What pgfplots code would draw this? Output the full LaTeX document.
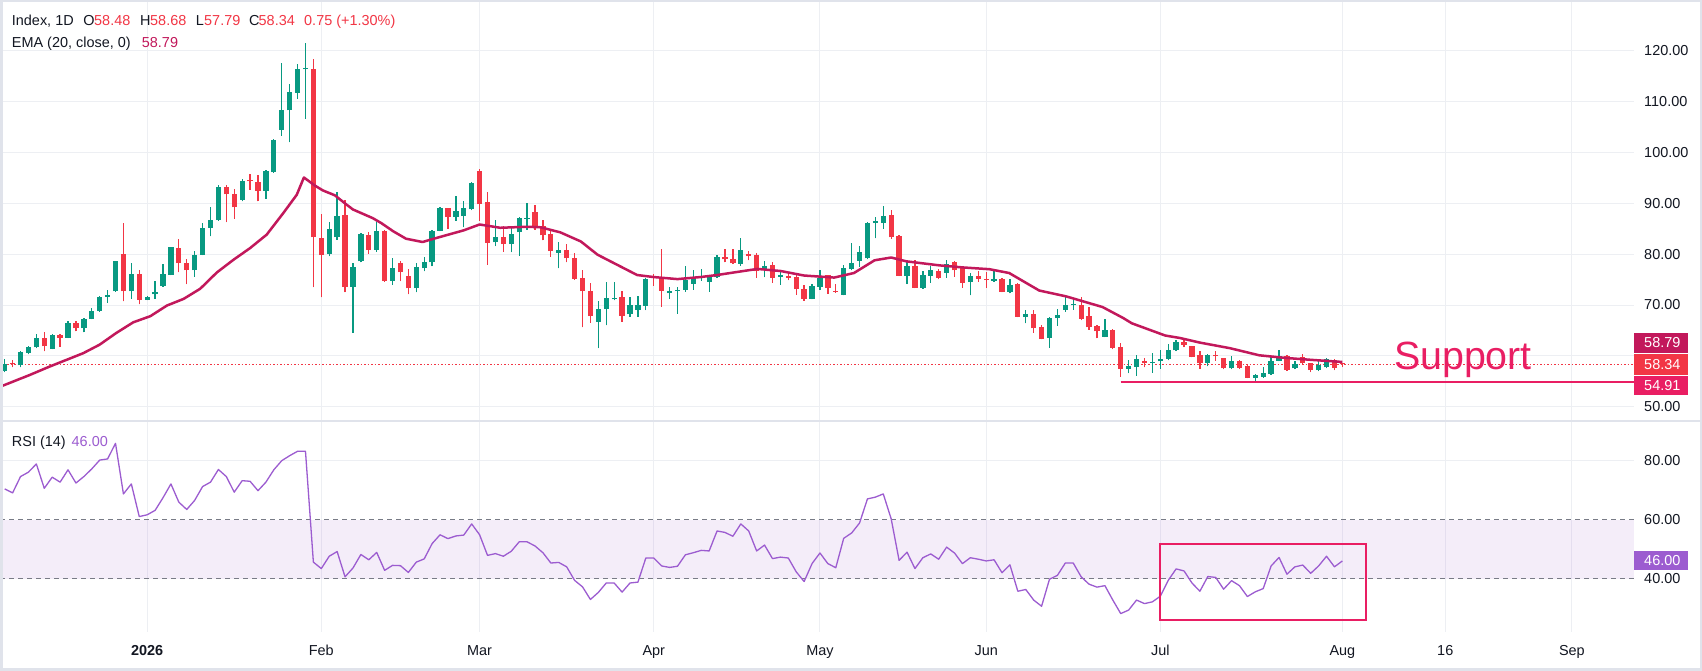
\documentclass[border=0pt]{standalone}
\usepackage{pgfplots}
\pgfplotsset{compat=1.18}
\usepackage{pgfplotstable}
\usepackage{fontspec}
\setmainfont{Liberation Sans}
\definecolor{cgreen}{HTML}{089981}
\definecolor{cred}{HTML}{F23645}
\definecolor{cema}{HTML}{C2185B}
\definecolor{cpink}{HTML}{E91E63}
\definecolor{crsi}{HTML}{9C5CD0}
\definecolor{cgrid}{HTML}{EDEFF3}
\definecolor{ctext}{HTML}{131722}
\definecolor{cdash}{HTML}{787B86}
\definecolor{cframe}{HTML}{E0E3EB}
\newcommand{\sm}{\fontsize{14.5}{17}\selectfont}
\pgfplotsset{candle/.style={only marks, mark=none, mark size=0pt,
  mark options={draw=none, fill=none}, forget plot}}

\pgfplotstableread{
k O H L C
0 57.0 59.3 56.8 58.4
2 58.1 60.85 57.7 60.7
3 60.65 62.0 60.3 61.7
4 61.65 64.35 61.5 63.55
6 61.4 64.2 61.3 64.1
8 63.6 66.9 63.5 66.4
10 65.4 67.5 64.6 67.2
11 67.3 69.5 67.2 68.9
12 68.8 71.8 68.7 71.6
13 71.6 72.9 70.4 71.9
14 72.7 78.7 72.6 78.6
16 72.7 78.2 71.25 76.2
18 71.05 71.7 70.9 71.6
19 72.1 74.7 71.25 72.6
20 73.7 78.0 73.6 76.2
21 76.0 81.5 75.9 81.4
24 76.8 80.6 75.6 79.9
25 79.9 86.2 79.8 85.2
26 85.2 89.2 83.5 86.8
27 86.7 93.6 86.6 93.3
30 90.7 94.8 90.4 94.5
33 92.5 96.6 90.9 96.3
34 96.1 102.6 96.0 102.5
35 104.5 117.7 103.3 108.4
36 108.3 113.5 102.0 111.9
37 111.8 117.4 110.6 116.5
38 116.4 121.6 106.7 116.5
41 80.05 86.4 79.6 85.0
42 83.3 92.3 82.8 87.6
44 73.5 78.2 64.5 77.5
45 78.6 84.2 78.4 83.9
47 80.9 86.3 80.5 84.6
49 74.7 79.3 74.0 77.2
52 73.25 78.3 72.5 77.4
53 77.2 79.5 76.6 78.5
54 78.4 84.8 77.6 84.6
55 84.6 89.2 84.5 89.0
57 87.3 91.4 86.6 88.5
58 87.5 90.4 85.3 89.0
59 88.8 94.3 88.7 94.0
62 82.35 86.8 81.6 83.3
64 82.0 85.1 80.4 83.9
65 84.3 87.4 79.7 87.05
66 87.0 90.1 84.8 87.1
70 80.2 82.5 77.2 80.9
75 66.7 70.7 61.5 69.2
76 69.2 74.55 66.0 71.4
77 71.1 74.55 70.9 71.25
79 68.2 71.65 67.7 70.0
80 69.1 71.8 67.7 70.0
81 69.9 75.4 69.0 75.15
84 72.3 73.6 71.25 72.8
85 72.8 73.6 68.3 72.9
86 73.0 77.7 72.6 75.0
87 74.2 76.8 73.0 75.4
88 75.3 77.0 74.8 75.7
89 74.6 76.0 72.6 75.7
90 75.5 79.8 75.4 79.4
93 78.1 83.1 77.7 80.9
96 76.9 78.7 75.5 77.7
98 75.6 76.7 74.0 75.8
102 71.2 74.2 71.1 73.8
103 73.6 76.9 73.0 75.4
106 72.05 77.9 71.9 77.3
107 77.1 82.3 76.8 78.3
108 78.7 81.7 77.5 80.5
109 79.2 86.4 79.0 86.1
110 86.1 87.3 83.1 86.6
111 86.1 89.4 85.0 87.6
114 75.8 78.4 74.1 77.7
116 73.4 76.7 73.2 75.9
117 75.8 77.7 74.4 76.8
119 76.3 78.9 75.4 78.0
122 74.6 76.3 71.9 75.7
125 74.75 77.1 74.6 75.1
127 72.65 75.1 72.3 74.0
129 67.6 69.0 66.4 68.2
132 63.6 67.7 61.6 67.5
133 67.35 69.2 65.9 68.05
134 69.05 71.5 68.7 70.05
135 69.95 71.3 69.05 70.05
139 63.8 67.3 63.7 65.1
142 57.5 59.15 56.6 57.95
143 57.8 60.2 56.05 59.35
145 58.6 60.65 56.7 58.7
146 58.9 61.1 57.5 59.3
147 59.4 62.3 59.1 61.1
148 61.05 63.2 60.9 62.8
152 58.55 60.45 57.9 60.1
155 57.55 59.9 57.4 58.9
158 55.7 56.4 55.1 56.2
159 55.85 57.7 55.7 56.6
160 56.4 59.7 56.3 58.95
161 59.0 61.2 58.9 60.0
163 57.55 59.0 57.4 58.35
166 57.2 59.0 57.0 58.2
167 57.7 59.55 57.6 59.35
}\greentab

\pgfplotstableread{
k O H L C
1 58.55 59.1 57.7 58.4
5 63.55 64.7 60.85 61.85
7 64.1 64.2 61.8 63.6
9 66.4 66.8 64.8 65.4
15 80.1 86.1 70.7 72.7
17 76.2 76.8 70.1 71.05
22 81.3 82.9 76.4 78.2
23 78.35 79.1 74.1 76.8
28 93.3 93.7 86.3 91.8
29 91.9 92.8 87.0 89.2
31 94.5 95.8 92.7 94.35
32 94.3 95.6 90.4 92.5
39 116.5 118.4 73.5 83.3
40 83.1 88.0 71.5 79.8
43 87.65 90.6 72.5 73.5
46 83.85 84.3 80.1 80.9
48 84.6 84.8 74.6 74.7
50 78.2 78.7 74.7 76.45
51 75.8 77.1 72.1 73.25
56 89.0 89.1 85.0 87.3
60 96.3 96.7 86.6 89.8
61 90.2 92.2 77.9 82.3
63 83.3 85.6 80.5 82.0
67 88.4 89.6 84.8 85.6
68 85.6 86.7 82.7 83.7
69 83.9 85.0 79.5 80.6
71 80.9 82.0 78.4 79.2
72 79.3 80.2 75.0 75.2
73 75.4 76.8 65.6 72.7
74 72.85 74.4 66.5 67.8
78 71.6 72.8 66.7 67.9
82 75.5 76.1 73.8 75.35
83 75.15 81.1 69.7 72.8
91 79.5 81.1 78.4 79.0
92 79.1 81.0 78.1 78.2
94 80.1 80.7 78.8 79.6
95 79.9 80.2 75.4 76.6
97 77.9 78.5 74.4 75.4
99 75.7 76.5 74.9 75.4
100 75.6 76.3 72.05 73.1
101 73.2 73.9 70.8 71.2
104 75.9 75.9 72.2 73.3
105 72.8 74.2 72.4 72.6
112 87.8 88.7 83.0 83.3
113 83.6 83.8 75.7 75.8
115 77.7 78.9 73.3 73.4
118 76.7 77.0 75.1 75.4
120 78.4 78.7 75.6 76.8
121 77.2 77.6 73.4 74.4
123 75.7 76.7 74.6 75.2
124 75.0 76.4 73.4 74.9
126 75.1 75.4 72.5 72.65
128 74.2 74.3 67.6 67.7
130 68.2 69.0 64.5 65.4
131 65.6 66.0 63.3 63.3
136 70.05 71.5 67.0 67.3
137 67.8 69.7 65.1 65.6
138 65.9 66.0 63.5 64.8
140 65.1 65.3 61.3 61.6
141 61.65 62.5 55.85 57.5
144 59.0 59.55 57.7 58.5
149 62.8 63.6 61.65 62.2
150 61.85 62.0 59.7 59.85
151 60.1 61.0 57.5 58.5
153 60.05 60.85 59.0 59.9
154 59.5 59.6 57.4 57.55
156 59.0 59.1 57.5 57.6
157 58.0 58.1 55.6 55.7
162 60.0 60.2 57.1 57.2
164 59.8 60.3 58.4 58.5
165 58.5 58.6 56.8 57.2
168 59.2 59.3 57.2 57.6
169 58.48 58.68 57.79 58.34
}\redtab

\pgfplotstableread{
k r
0 70.5
1 69.15
2 74.7
3 76.2
4 79.0
5 70.7
6 74.5
7 72.8
8 77.0
9 72.5
10 74.7
11 77.3
12 80.3
13 80.7
14 86.0
15 68.8
16 72.2
17 61.1
18 61.7
19 63.2
20 67.5
21 72.2
22 66.0
23 63.5
24 66.6
25 71.3
26 72.8
27 77.1
28 74.7
29 69.4
30 73.3
31 73.1
32 69.9
33 72.8
34 77.0
35 80.1
36 81.8
37 83.3
38 83.3
39 45.6
40 43.4
41 47.6
42 49.2
43 40.6
44 43.6
45 48.2
46 46.4
47 48.9
48 42.8
49 44.5
50 44.4
51 42.1
52 45.6
53 46.7
54 51.9
55 54.9
56 53.6
57 54.5
58 54.8
59 58.6
60 54.9
61 47.9
62 48.5
63 47.6
64 49.3
65 52.5
66 52.5
67 51.1
68 48.8
69 45.3
70 45.5
71 44.0
72 39.4
73 37.2
74 32.9
75 35.3
76 38.5
77 38.5
78 35.4
79 38.5
80 38.8
81 47.0
82 47.0
83 44.3
84 43.8
85 44.2
86 48.1
87 48.8
88 49.6
89 49.4
90 56.2
91 55.7
92 54.4
93 58.6
94 56.2
95 49.4
96 51.4
97 46.8
98 47.3
99 47.0
100 42.3
101 39.0
102 45.1
103 48.7
104 45.1
105 43.7
106 53.7
107 55.5
108 58.9
109 67.1
110 67.7
111 68.8
112 60.3
113 46.2
114 49.0
115 43.4
116 47.1
117 48.4
118 46.6
119 50.7
120 48.7
121 45.1
122 47.1
123 46.6
124 46.0
125 46.4
126 42.0
127 44.7
128 35.7
129 36.3
130 32.7
131 30.6
132 39.8
133 41.1
134 45.3
135 45.3
136 40.6
137 38.1
138 37.1
139 37.6
140 32.7
141 28.1
142 29.3
143 32.7
144 31.5
145 32.1
146 34.0
147 39.4
148 43.3
149 42.6
150 38.5
151 35.7
152 40.7
153 40.4
154 36.4
155 39.3
156 37.6
157 33.9
158 35.5
159 36.6
160 44.3
161 47.2
162 41.5
163 44.0
164 44.6
165 41.8
166 44.3
167 47.6
168 44.0
169 46.0
}\rsitab

\begin{document}
\begin{tikzpicture}[x=1bp,y=1bp]
\useasboundingbox (0,0) rectangle (1702,671);
\fill[white] (0,0) rectangle (1702,671);

% ---------------- price pane ----------------
\begin{axis}[
  at={(0bp,250bp)}, anchor=south west, scale only axis,
  width=1634bp, height=421bp,
  xmin=-0.594, xmax=205.85, ymin=47.17, ymax=130.04,
  axis line style={draw=none}, major tick length=0pt,
  xtick={18,40,60,82,103,124,146,169,182,198}, xticklabels={},
  ytick={50,60,...,120},
  yticklabels={50.00,,70.00,80.00,90.00,100.00,110.00,120.00},
  yticklabel pos=right,
  yticklabel style={anchor=west, inner sep=0pt, xshift=10bp, font=\sm, text=ctext},
  xmajorgrids, ymajorgrids, grid style={cgrid, line width=1bp},
]
% close price dotted line
\addplot[cred, line width=1bp, dash pattern=on 1.5bp off 2bp, forget plot] coordinates {(-0.594,58.34) (205.85,58.34)};
% support line
\addplot[cpink, line width=2bp, forget plot] coordinates {(141,54.91) (205.85,54.91)};
% wicks
\addplot[candle,
  error bars/.cd, y dir=plus, y explicit, error mark=none,
  error bar style={line width=1.3bp, cgreen}]
  table[x=k, y=L, y error plus expr={\thisrow{H}-\thisrow{L}}] {\greentab};
\addplot[candle,
  error bars/.cd, y dir=plus, y explicit, error mark=none,
  error bar style={line width=1.3bp, cred}]
  table[x=k, y=L, y error plus expr={\thisrow{H}-\thisrow{L}}] {\redtab};
% bodies
\addplot[candle,
  error bars/.cd, y dir=plus, y explicit, error mark=none,
  error bar style={line width=5.3bp, cgreen}]
  table[x=k, y=O, y error plus expr={max(\thisrow{C}-\thisrow{O},0.22)}] {\greentab};
\addplot[candle,
  error bars/.cd, y dir=plus, y explicit, error mark=none,
  error bar style={line width=5.3bp, cred}]
  table[x=k, y=C, y error plus expr={max(\thisrow{O}-\thisrow{C},0.22)}] {\redtab};
% EMA 20
\addplot[cema, line width=2.5bp, line join=round] coordinates {
(-0.6,53.9) (3.2,56.25) (5.7,57.9) (7.8,59.2) (9.9,60.5) (12,62.2) (14.1,64.5)
(16.25,66.6) (18.4,67.8) (20.5,69.9) (22.6,71.2) (24.7,73.2) (26.8,76.4)
(28.9,78.9) (31,81.2) (33.1,83.85) (35.2,88.1) (36.9,91.7) (37.8,95.1)
(39.2,93.5) (40.2,92.55) (41.7,91.6) (43.2,89.75) (44.0,88.8) (46.5,87.1)
(47.6,86.1) (49.1,84.5) (50.7,83.05) (52.8,82.4) (54.1,83.0) (58,84.7)
(60,85.85) (62.6,85.2) (66,85.4) (67.7,85.3) (70.2,84.3) (72.8,82.5)
(74.9,79.9) (77.4,77.9) (79.9,75.9) (82,75.5) (85,75.1) (87.9,75.5)
(90,75.9) (92.1,76.4) (95.1,77.1) (98,76.7) (101,75.8) (104.8,75.4)
(107.3,76.3) (109.9,78.8) (112,79.35) (113.9,78.6) (118.1,77.8) (121,77.4)
(124.4,77.05) (126.9,76.3) (130.7,72.85) (134.1,71.7) (138.7,69.6)
(141.3,67.45) (142.4,66.4) (146.6,64.0) (148.5,63.5) (151,62.6) (154.8,61.5)
(158.5,60.1) (161.7,59.6) (165.1,59.2) (169,58.79)};
\end{axis}

% ---------------- RSI pane ----------------
\begin{axis}[
  at={(0bp,39bp)}, anchor=south west, scale only axis,
  width=1634bp, height=211bp,
  xmin=-0.594, xmax=205.85, ymin=21.84, ymax=93.6,
  axis line style={draw=none}, major tick length=0pt,
  xtick={18,40,60,82,103,124,146,169,182,198},
  xticklabels={\textbf{2026},Feb,Mar,Apr,May,Jun,Jul,Aug,16,Sep},
  xticklabel style={anchor=base, inner sep=0pt, yshift=-24bp, font=\sm, text=ctext},
  ytick={80}, yticklabels={80.00},
  extra y ticks={40,60}, extra y tick labels={40.00,60.00},
  extra y tick style={grid=none},
  yticklabel pos=right,
  yticklabel style={anchor=west, inner sep=0pt, xshift=10bp, font=\sm, text=ctext},
  xmajorgrids, ymajorgrids, grid style={cgrid, line width=1bp},
]
\fill[crsi, fill opacity=0.11] (axis cs:-0.594,40) rectangle (axis cs:205.85,60);
\addplot[cdash, line width=1bp, dash pattern=on 5bp off 4bp, forget plot] coordinates {(-0.594,60) (205.85,60)};
\addplot[cdash, line width=1bp, dash pattern=on 5bp off 4bp, forget plot] coordinates {(-0.594,40) (205.85,40)};
\addplot[crsi, line width=1.3bp, line join=round] table[x=k, y=r] {\rsitab};
\draw[cpink, line width=2bp] (axis cs:146,51.7) rectangle (axis cs:172,25.9);
\end{axis}

% separator and frame
\draw[cframe, line width=1.5bp] (0,250) -- (1702,250);
\draw[cframe, line width=2.5bp] (1.25,1.25) rectangle (1700.75,669.75);

% price labels
\fill[cema] (1634,318) rectangle (1688,338);
\fill[cred] (1634,296.3) rectangle (1688,316.5);
\fill[cpink] (1634,275.5) rectangle (1688,295.3);
\node[anchor=west, inner sep=0, text=white, font=\sm] at (1644,328) {58.79};
\node[anchor=west, inner sep=0, text=white, font=\sm] at (1644,306.4) {58.34};
\node[anchor=west, inner sep=0, text=white, font=\sm] at (1644,285.4) {54.91};
\fill[crsi] (1634,101) rectangle (1688,120.3);
\node[anchor=west, inner sep=0, text=white, font=\sm] at (1644,110.6) {46.00};

% Support annotation
\node[anchor=base, inner sep=0, text=cpink, font=\fontsize{39.5}{44}\selectfont] at (1463,301) {Support};

% header legend
\begin{scope}[every node/.style={anchor=base west, inner sep=0, font=\sm}]
\node[text=ctext] at (11.7,645) {Index, 1D};
\node[text=ctext] at (83.3,645) {O};
\node[text=cred] at (94,645) {58.48};
\node[text=ctext] at (140,645) {H};
\node[text=cred] at (150,645) {58.68};
\node[text=ctext] at (195.7,645) {L};
\node[text=cred] at (204,645) {57.79};
\node[text=ctext] at (249,645) {C};
\node[text=cred] at (258.5,645) {58.34};
\node[text=cred] at (304,645) {0.75 (+1.30\%)};
\node[text=ctext] at (11.7,623.7) {EMA (20, close, 0)};
\node[text=cema] at (141.7,623.7) {58.79};
\node[text=ctext] at (11.8,224.3) {RSI (14)};
\node[text=crsi] at (71.5,224.3) {46.00};
\end{scope}
\end{tikzpicture}
\end{document}
